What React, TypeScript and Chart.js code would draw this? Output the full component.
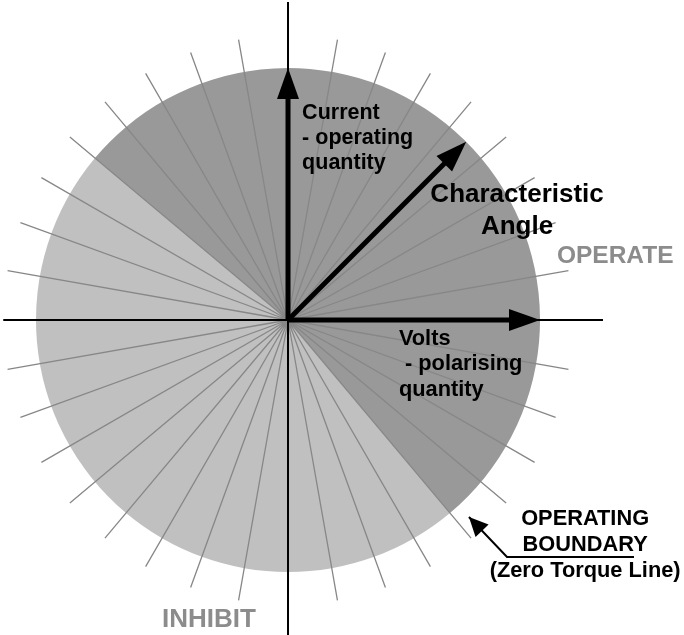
import React, { useEffect, useRef } from 'react';
import { Chart, registerables } from 'chart.js';

Chart.register(...registerables);

// ---------------- data ----------------
// radial reference lines, degrees (counter-clockwise from the volts axis)
const gridAnglesDeg = [
  10, 20, 30, 40, 50, 60, 70, 80,
  100, 110, 120, 130, 140, 150, 160, 170,
  190, 200, 210, 220, 230, 240, 250, 260,
  280, 290, 300, 310, 320, 330, 340, 350,
];
const gridLineLength = 1.13;
const discRadius = 1;

// regions of the characteristic
const regionNames = ['OPERATE', 'INHIBIT'];
const regionStartDeg = [-50, 140];
const regionEndDeg = [140, 310];

// phasors
const phasorNames = ['Current', 'Volts', 'Characteristic Angle'];
const phasorAnglesDeg = [90, 0, 45];
const phasorMagnitudes = [1, 1, 1];

// reference axes extent
const axisXRange = [-1.13, 1.25];
const axisYRange = [-1.26, 1.262];

// view window (data units)
const xLimits = [-1.1429, 1.5714];
const yLimits = [-1.25, 1.2698];

// ---------------- styles ----------------
const regionColors = ['#999999', '#c0c0c0'];
const gridColor = '#878787';
const FONT = '"Liberation Sans", Arial, Helvetica, sans-serif';
const HEAD_LEN = 31;
const HEAD_HALF = 11;
const SHAFT_TRIM = 0.08;

type Label = {
  lines: string[];
  x: number;
  y: number;
  size: number;
  lh: number;
  align: CanvasTextAlign;
  color: string;
};

const labels: Label[] = [
  { lines: ['Current', '- operating', 'quantity'], x: 0.056, y: 0.798, size: 21.5, lh: 25, align: 'left', color: '#000' },
  { lines: ['Volts', ' - polarising', 'quantity'], x: 0.44, y: -0.099, size: 21.8, lh: 25.5, align: 'left', color: '#000' },
  { lines: ['Characteristic', 'Angle'], x: 0.909, y: 0.468, size: 26, lh: 32, align: 'center', color: '#000' },
  { lines: [regionNames[0]], x: 1.067, y: 0.226, size: 24.5, lh: 24, align: 'left', color: '#8c8c8c' },
  { lines: [regionNames[1]], x: -0.5, y: -1.218, size: 26, lh: 26, align: 'left', color: '#8c8c8c' },
  { lines: ['OPERATING', 'BOUNDARY', '(Zero Torque Line)'], x: 1.179, y: -0.813, size: 21.8, lh: 26, align: 'center', color: '#000' },
];

// callout from the boundary label to the zero torque line
const calloutPath = [
  { x: 1.373, y: -0.94 },
  { x: 0.869, y: -0.94 },
  { x: 0.718, y: -0.782 },
];

const rad = (d: number) => (d * Math.PI) / 180;
const gap = { x: NaN, y: NaN };

function drawHead(ctx: CanvasRenderingContext2D, tx: number, ty: number, fx: number, fy: number, len: number, half: number) {
  const dx = tx - fx;
  const dy = ty - fy;
  const d = Math.hypot(dx, dy) || 1;
  const ux = dx / d;
  const uy = dy / d;
  const bx = tx - ux * len;
  const by = ty - uy * len;
  ctx.beginPath();
  ctx.moveTo(tx, ty);
  ctx.lineTo(bx - uy * half, by + ux * half);
  ctx.lineTo(bx + uy * half, by - ux * half);
  ctx.closePath();
  ctx.fillStyle = '#000';
  ctx.fill();
}

const sectorPlugin = {
  id: 'sectors',
  beforeDatasetsDraw(chart: any) {
    const { ctx, scales } = chart;
    const sx = scales.x;
    const sy = scales.y;
    const cx = sx.getPixelForValue(0);
    const cy = sy.getPixelForValue(0);
    const r = sx.getPixelForValue(discRadius) - cx;
    ctx.save();
    regionStartDeg.forEach((s, i) => {
      ctx.beginPath();
      ctx.moveTo(cx, cy);
      ctx.arc(cx, cy, r, -rad(s), -rad(regionEndDeg[i]), true);
      ctx.closePath();
      ctx.fillStyle = regionColors[i];
      ctx.fill();
    });
    ctx.restore();
  },
};

const overlayPlugin = {
  id: 'overlay',
  afterDatasetsDraw(chart: any) {
    const { ctx, scales } = chart;
    const sx = scales.x;
    const sy = scales.y;
    const cx = sx.getPixelForValue(0);
    const cy = sy.getPixelForValue(0);
    ctx.save();
    // phasor arrow heads
    phasorAnglesDeg.forEach((a, i) => {
      const m = phasorMagnitudes[i];
      const tx = sx.getPixelForValue(m * Math.cos(rad(a)));
      const ty = sy.getPixelForValue(m * Math.sin(rad(a)));
      drawHead(ctx, tx, ty, cx, cy, HEAD_LEN, HEAD_HALF);
    });
    // callout head
    const p1 = calloutPath[calloutPath.length - 2];
    const p2 = calloutPath[calloutPath.length - 1];
    drawHead(
      ctx,
      sx.getPixelForValue(p2.x),
      sy.getPixelForValue(p2.y),
      sx.getPixelForValue(p1.x),
      sy.getPixelForValue(p1.y),
      19,
      9
    );
    // labels
    ctx.textBaseline = 'alphabetic';
    labels.forEach((l) => {
      ctx.font = `bold ${l.size}px ${FONT}`;
      ctx.fillStyle = l.color;
      ctx.textAlign = l.align;
      const x = sx.getPixelForValue(l.x);
      const y = sy.getPixelForValue(l.y);
      l.lines.forEach((t, k) => ctx.fillText(t, x, y + k * l.lh));
    });
    ctx.restore();
  },
};

export default function App() {
  const ref = useRef<HTMLCanvasElement>(null);

  useEffect(() => {
    const gridData: any[] = [];
    gridAnglesDeg.forEach((a) => {
      gridData.push({ x: 0, y: 0 });
      gridData.push({ x: gridLineLength * Math.cos(rad(a)), y: gridLineLength * Math.sin(rad(a)) });
      gridData.push(gap);
    });

    const axesData = [
      { x: axisXRange[0], y: 0 },
      { x: axisXRange[1], y: 0 },
      gap,
      { x: 0, y: axisYRange[1] },
      { x: 0, y: axisYRange[0] },
    ];

    const phasorSets = phasorNames.map((name, i) => {
      const m = phasorMagnitudes[i] - SHAFT_TRIM;
      return {
        label: name,
        data: [
          { x: 0, y: 0 },
          { x: m * Math.cos(rad(phasorAnglesDeg[i])), y: m * Math.sin(rad(phasorAnglesDeg[i])) },
        ],
        showLine: true,
        borderColor: '#000',
        borderWidth: 5,
        borderCapStyle: 'butt',
        pointRadius: 0,
        order: 1,
      };
    });

    const chart = new Chart(ref.current as HTMLCanvasElement, {
      type: 'scatter',
      data: {
        datasets: [
          ...phasorSets,
          {
            label: 'callout',
            data: calloutPath,
            showLine: true,
            borderColor: '#000',
            borderWidth: 2,
            pointRadius: 0,
            order: 1,
          },
          {
            label: 'axes',
            data: axesData,
            showLine: true,
            borderColor: '#000',
            borderWidth: 2,
            pointRadius: 0,
            spanGaps: false,
            order: 2,
          },
          {
            label: 'grid',
            data: gridData,
            showLine: true,
            borderColor: gridColor,
            borderWidth: 1.3,
            pointRadius: 0,
            spanGaps: false,
            order: 3,
          },
        ] as any,
      },
      options: {
        animation: false,
        responsive: false,
        events: [],
        layout: { padding: 0, autoPadding: false } as any,
        plugins: { legend: { display: false }, tooltip: { enabled: false } },
        scales: {
          x: { type: 'linear', min: xLimits[0], max: xLimits[1], bounds: 'data', display: false },
          y: { type: 'linear', min: yLimits[0], max: yLimits[1], bounds: 'data', display: false },
        },
      } as any,
      plugins: [sectorPlugin, overlayPlugin],
    });
    return () => chart.destroy();
  }, []);

  return (
    <div style={{ position: 'absolute', left: 0, top: 0, width: 684, height: 635, background: '#fff' }}>
      <canvas ref={ref} width={684} height={635} style={{ display: 'block', width: 684, height: 635 }} />
    </div>
  );
}
